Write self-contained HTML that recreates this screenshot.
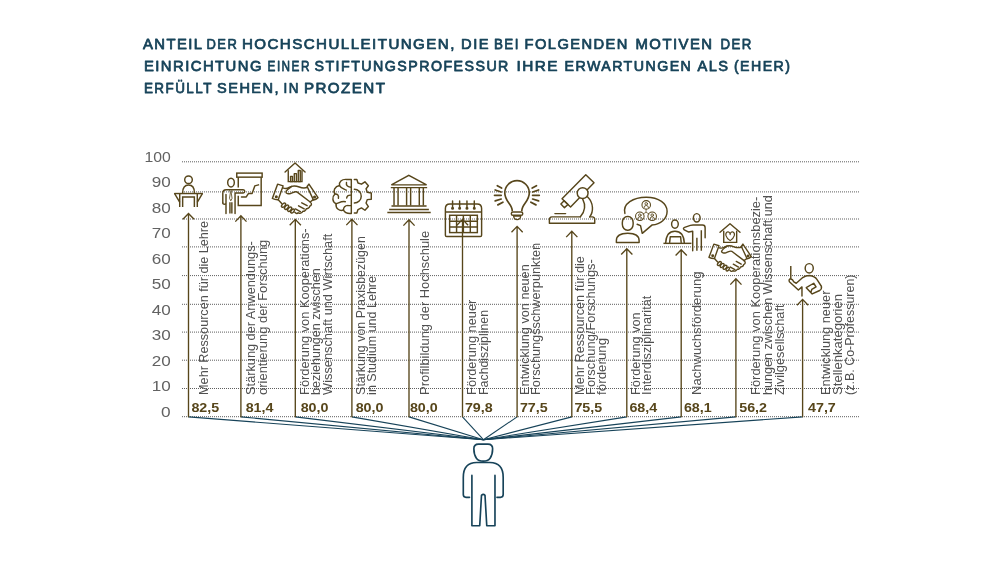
<!DOCTYPE html>
<html lang="de"><head><meta charset="utf-8"><title>Stiftungsprofessur</title>
<style>html,body{margin:0;padding:0;background:#fff}body{width:1000px;height:563px;overflow:hidden;font-family:"Liberation Sans",sans-serif}svg{display:block;will-change:transform}text{font-family:"Liberation Sans",sans-serif}</style></head><body>
<svg width="1000" height="563" viewBox="0 0 1000 563">
<rect width="1000" height="563" fill="#fff"/>
<g font-size="14.9" fill="#174359" stroke="#174359" stroke-width="0.75" stroke-linejoin="round">
<text transform="translate(142.90 48.6) scale(0.9963 1)" letter-spacing="1.455">ANTEIL</text>
<text transform="translate(206.56 48.6) scale(0.8702 1)" letter-spacing="1.666">DER</text>
<text transform="translate(241.89 48.6) scale(1.0154 1)" letter-spacing="1.428">HOCHSCHULLEITUNGEN,</text>
<text transform="translate(461.11 48.6) scale(0.9862 1)" letter-spacing="1.470">DIE</text>
<text transform="translate(493.95 48.6) scale(0.8994 1)" letter-spacing="1.612">BEI</text>
<text transform="translate(524.51 48.6) scale(0.9861 1)" letter-spacing="1.470">FOLGENDEN</text>
<text transform="translate(635.50 48.6) scale(1.0008 1)" letter-spacing="1.449">MOTIVEN</text>
<text transform="translate(720.56 48.6) scale(0.8899 1)" letter-spacing="1.629">DER</text>
<text transform="translate(143.90 70.8) scale(0.9970 1)" letter-spacing="1.454">EINRICHTUNG</text>
<text transform="translate(267.60 70.8) scale(0.7907 1)" letter-spacing="1.834">EINER</text>
<text transform="translate(314.52 70.8) scale(0.9563 1)" letter-spacing="1.516">STIFTUNGSPROFESSUR</text>
<text transform="translate(516.48 70.8) scale(1.0310 1)" letter-spacing="1.406">IHRE</text>
<text transform="translate(564.52 70.8) scale(0.9551 1)" letter-spacing="1.518">ERWARTUNGEN</text>
<text transform="translate(697.51 70.8) scale(0.9832 1)" letter-spacing="1.475">ALS</text>
<text transform="translate(733.92 70.8) scale(0.9514 1)" letter-spacing="1.524">(EHER)</text>
<text transform="translate(143.95 92.8) scale(0.9034 1)" letter-spacing="1.605">ERFÜLLT</text>
<text transform="translate(217.11 92.8) scale(0.9761 1)" letter-spacing="1.486">SEHEN,</text>
<text transform="translate(283.55 92.8) scale(0.9025 1)" letter-spacing="1.607">IN</text>
<text transform="translate(303.89 92.8) scale(1.0177 1)" letter-spacing="1.425">PROZENT</text>
</g>
<g stroke="#5e5e5e" stroke-width="1" stroke-dasharray="1 1" fill="none">
<path d="M182 161.8H859"/>
<path d="M182 191.9H859"/>
<path d="M182 219.0H859"/>
<path d="M182 246.9H859"/>
<path d="M182 275.6H859"/>
<path d="M182 304.3H859"/>
<path d="M182 332.1H859"/>
<path d="M182 360.2H859"/>
<path d="M182 388.5H859"/>
<path d="M182 416.7H859"/>
</g>
<g font-size="15" fill="#626262" text-anchor="end">
<text x="170.7" y="161.9" textLength="26.3" lengthAdjust="spacingAndGlyphs">100</text>
<text x="170.7" y="187.4" textLength="19.0" lengthAdjust="spacingAndGlyphs">90</text>
<text x="170.7" y="212.9" textLength="19.0" lengthAdjust="spacingAndGlyphs">80</text>
<text x="170.7" y="238.3" textLength="19.0" lengthAdjust="spacingAndGlyphs">70</text>
<text x="170.7" y="263.8" textLength="19.0" lengthAdjust="spacingAndGlyphs">60</text>
<text x="170.7" y="289.3" textLength="19.0" lengthAdjust="spacingAndGlyphs">50</text>
<text x="170.7" y="314.8" textLength="19.0" lengthAdjust="spacingAndGlyphs">40</text>
<text x="170.7" y="340.3" textLength="19.0" lengthAdjust="spacingAndGlyphs">30</text>
<text x="170.7" y="365.7" textLength="19.0" lengthAdjust="spacingAndGlyphs">20</text>
<text x="170.7" y="391.2" textLength="19.0" lengthAdjust="spacingAndGlyphs">10</text>
<text x="170.7" y="416.7" textLength="9.6" lengthAdjust="spacingAndGlyphs">0</text>
</g>
<g stroke="#174359" stroke-width="1.1" fill="none">
<path d="M188.5 416.9L483.4 439.7"/>
<path d="M240.9 416.9L483.4 439.7"/>
<path d="M295.3 416.9L483.4 439.7"/>
<path d="M351.9 416.9L483.4 439.7"/>
<path d="M409.0 416.9L483.4 439.7"/>
<path d="M462.5 416.9L483.4 439.7"/>
<path d="M517.1 416.9L483.4 439.7"/>
<path d="M571.8 416.9L483.4 439.7"/>
<path d="M626.8 416.9L483.4 439.7"/>
<path d="M681.2 416.9L483.4 439.7"/>
<path d="M735.9 416.9L483.4 439.7"/>
<path d="M802.6 416.9L483.4 439.7"/>
</g>
<g stroke="#57461b" stroke-width="1.35" fill="none">
<path d="M188.5 417.2V213.5M182.9 219.3L188.5 213.5L194.1 219.3"/>
<path d="M240.9 417.2V215.8M235.3 221.6L240.9 215.8L246.5 221.6"/>
<path d="M295.3 417.2V219.4M289.7 225.2L295.3 219.4L300.9 225.2"/>
<path d="M351.9 417.2V219.3M346.3 225.1L351.9 219.3L357.5 225.1"/>
<path d="M409.0 417.2V219.8M403.4 225.6L409.0 219.8L414.6 225.6"/>
<path d="M462.5 417.2V219.4M456.9 225.2L462.5 219.4L468.1 225.2"/>
<path d="M517.1 417.2V226.4M511.5 232.2L517.1 226.4L522.7 232.2"/>
<path d="M571.8 417.2V231.3M566.2 237.1L571.8 231.3L577.4 237.1"/>
<path d="M626.8 417.2V248.7M621.2 254.5L626.8 248.7L632.4 254.5"/>
<path d="M681.2 417.2V249.7M675.6 255.5L681.2 249.7L686.8 255.5"/>
<path d="M735.9 417.2V278.8M730.3 284.6L735.9 278.8L741.5 284.6"/>
<path d="M802.6 417.2V299.4M797.0 305.2L802.6 299.4L808.2 305.2"/>
</g>
<g font-size="13.6" font-weight="bold" fill="#57461b">
<text x="191.4" y="412.2" textLength="27.8" lengthAdjust="spacingAndGlyphs">82,5</text>
<text x="245.65" y="412.2" textLength="27.8" lengthAdjust="spacingAndGlyphs">81,4</text>
<text x="300.65" y="412.2" textLength="27.8" lengthAdjust="spacingAndGlyphs">80,0</text>
<text x="355.65" y="412.2" textLength="27.8" lengthAdjust="spacingAndGlyphs">80,0</text>
<text x="409.9" y="412.2" textLength="27.8" lengthAdjust="spacingAndGlyphs">80,0</text>
<text x="464.9" y="412.2" textLength="27.8" lengthAdjust="spacingAndGlyphs">79,8</text>
<text x="519.9" y="412.2" textLength="27.8" lengthAdjust="spacingAndGlyphs">77,5</text>
<text x="574.4" y="412.2" textLength="27.8" lengthAdjust="spacingAndGlyphs">75,5</text>
<text x="629.4" y="412.2" textLength="27.8" lengthAdjust="spacingAndGlyphs">68,4</text>
<text x="683.9" y="412.2" textLength="27.8" lengthAdjust="spacingAndGlyphs">68,1</text>
<text x="739.1999999999999" y="412.2" textLength="27.8" lengthAdjust="spacingAndGlyphs">56,2</text>
<text x="808.0" y="412.2" textLength="27.8" lengthAdjust="spacingAndGlyphs">47,7</text>
</g>
<g font-size="12.6" fill="#505050">
<text transform="translate(208.20 394.9) rotate(-90)" textLength="174.0" lengthAdjust="spacingAndGlyphs">Mehr Ressourcen für die Lehre</text>
<text transform="translate(254.80 394.9) rotate(-90)" textLength="153.65" lengthAdjust="spacingAndGlyphs">Stärkung der Anwendungs-</text>
<text transform="translate(266.50 394.9) rotate(-90)" textLength="155.2" lengthAdjust="spacingAndGlyphs">orientierung der Forschung</text>
<text transform="translate(308.60 394.9) rotate(-90)" textLength="166.5" lengthAdjust="spacingAndGlyphs">Förderung von Kooperations-</text>
<text transform="translate(320.30 394.9) rotate(-90)" textLength="126.5" lengthAdjust="spacingAndGlyphs">beziehungen zwischen</text>
<text transform="translate(331.70 394.9) rotate(-90)" textLength="161.2" lengthAdjust="spacingAndGlyphs">Wissenschaft und Wirtschaft</text>
<text transform="translate(364.50 394.9) rotate(-90)" textLength="158.7" lengthAdjust="spacingAndGlyphs">Stärkung von Praxisbezügen</text>
<text transform="translate(376.25 394.9) rotate(-90)" textLength="118.9" lengthAdjust="spacingAndGlyphs">in Studium und Lehre</text>
<text transform="translate(428.70 394.9) rotate(-90)" textLength="164.0" lengthAdjust="spacingAndGlyphs">Profilbildung der Hochschule</text>
<text transform="translate(475.55 394.9) rotate(-90)" textLength="95.2" lengthAdjust="spacingAndGlyphs">Förderung neuer</text>
<text transform="translate(487.60 394.9) rotate(-90)" textLength="84.9" lengthAdjust="spacingAndGlyphs">Fachdisziplinen</text>
<text transform="translate(528.60 394.9) rotate(-90)" textLength="130.6" lengthAdjust="spacingAndGlyphs">Entwicklung von neuen</text>
<text transform="translate(540.00 394.9) rotate(-90)" textLength="152.0" lengthAdjust="spacingAndGlyphs">Forschungsschwerpunkten</text>
<text transform="translate(583.80 394.9) rotate(-90)" textLength="138.8" lengthAdjust="spacingAndGlyphs">Mehr Ressourcen für die</text>
<text transform="translate(595.00 394.9) rotate(-90)" textLength="135.7" lengthAdjust="spacingAndGlyphs">Forschung/Forschungs-</text>
<text transform="translate(606.40 394.9) rotate(-90)" textLength="57.0" lengthAdjust="spacingAndGlyphs">förderung</text>
<text transform="translate(639.60 394.9) rotate(-90)" textLength="82.6" lengthAdjust="spacingAndGlyphs">Förderung von</text>
<text transform="translate(651.30 394.9) rotate(-90)" textLength="99.3" lengthAdjust="spacingAndGlyphs">Interdisziplinarität</text>
<text transform="translate(701.20 394.9) rotate(-90)" textLength="123.4" lengthAdjust="spacingAndGlyphs">Nachwuchsförderung</text>
<text transform="translate(760.05 394.9) rotate(-90)" textLength="198.2" lengthAdjust="spacingAndGlyphs">Förderung von Kooperationsbezie-</text>
<text transform="translate(772.20 394.9) rotate(-90)" textLength="199.6" lengthAdjust="spacingAndGlyphs">hungen zwischen Wissenschaft und</text>
<text transform="translate(784.30 394.9) rotate(-90)" textLength="90.4" lengthAdjust="spacingAndGlyphs">Zivilgesellschaft</text>
<text transform="translate(830.20 394.9) rotate(-90)" textLength="104.3" lengthAdjust="spacingAndGlyphs">Entwicklung neuer</text>
<text transform="translate(842.20 394.9) rotate(-90)" textLength="100.8" lengthAdjust="spacingAndGlyphs">Stellenkategorien</text>
<text transform="translate(854.00 394.9) rotate(-90)" textLength="120.4" lengthAdjust="spacingAndGlyphs">(z.B. Co-Professuren)</text>
</g>
<g transform="translate(168 170) scale(0.09766)" stroke="#57461b" stroke-width="14.847999999999999" fill="none" stroke-linecap="round" stroke-linejoin="round">
<circle cx="210" cy="100" r="39"/>
<path d="M150 232C150 180 172 154 210 154C248 154 270 180 270 232"/>
<path d="M66 241H354" stroke-linecap="butt"/>
<path d="M68 243L118 326M352 243L302 326"/>
<path d="M120 246V380M300 246V380M150 380V276H270V380" stroke-linecap="butt" stroke-linejoin="miter"/>
</g>
<g transform="translate(218 165) scale(0.10661)" stroke="#57461b" stroke-width="13.601" fill="none" stroke-linecap="round" stroke-linejoin="round">
<rect x="176" y="76" width="238" height="38" stroke-linejoin="miter"/>
<path d="M190 114V212M190 288V380H405V114" stroke-linejoin="miter" stroke-linecap="butt"/>
<path d="M220 300H265L285 268H320L345 196L380 186"/>
<ellipse cx="122" cy="165" rx="31" ry="41"/>
<path d="M45 356V264Q45 232 77 232H236Q251 233 251 247Q251 262 236 262H160V456"/>
<path d="M45 356Q46 368 60 368Q74 368 75 356V276M75 356V456"/>
<path d="M112 456V350M130 456V350" stroke-linecap="butt"/>
<path d="M110 240L116 262L108 312L120 336L132 312L124 262L130 240" stroke-width="8"/>
</g>
<g transform="translate(268 155) scale(0.13333)" stroke="#57461b" stroke-width="10.5" fill="none" stroke-linecap="round" stroke-linejoin="round">
<path d="M128 128L203 60L278 128"/>
<path d="M152 118V200H255V118" stroke-linejoin="miter"/>
<rect x="169" y="160" width="14" height="40"/><rect x="197" y="140" width="16" height="60"/><rect x="227" y="116" width="15" height="84"/>
</g>
<g transform="translate(268 180) scale(0.06394)" stroke="#57461b" stroke-width="22.678" fill="none" stroke-linecap="round" stroke-linejoin="round">
<path d="M150 65L236 92L160 308Q110 310 68 288Z"/>
<circle cx="130" cy="262" r="13"/>
<path d="M612 102L640 64L782 276Q750 305 712 314Z"/>
<circle cx="728" cy="266" r="13"/>
<path d="M232 122C265 138 300 136 330 116C372 90 440 90 490 110C540 130 580 126 613 118"/>
<path d="M372 100C330 128 284 168 280 188C282 214 320 220 352 212C392 200 420 172 452 186L660 344"/>
<path d="M706 308L660 344C690 368 684 398 652 410C650 440 615 452 600 448C592 480 560 492 545 488C530 520 490 528 472 512Q452 540 420 505"/>
<path d="M528 356L612 402M478 404L566 452M428 452L506 494"/>
<path d="M160 308L214 366"/>
<ellipse cx="243" cy="393" rx="23" ry="40" transform="rotate(42 243 393)"/>
<ellipse cx="290" cy="425" rx="23" ry="40" transform="rotate(42 290 425)"/>
<ellipse cx="338" cy="456" rx="23" ry="40" transform="rotate(42 338 456)"/>
<ellipse cx="384" cy="486" rx="21" ry="36" transform="rotate(42 384 486)"/>
</g>
<g transform="translate(456.47 73.38) scale(0.9272)"><g transform="translate(268 180) scale(0.06394)" stroke="#57461b" stroke-width="23.46" fill="none" stroke-linecap="round" stroke-linejoin="round">
<path d="M150 65L236 92L160 308Q110 310 68 288Z"/>
<circle cx="130" cy="262" r="13"/>
<path d="M612 102L640 64L782 276Q750 305 712 314Z"/>
<circle cx="728" cy="266" r="13"/>
<path d="M232 122C265 138 300 136 330 116C372 90 440 90 490 110C540 130 580 126 613 118"/>
<path d="M372 100C330 128 284 168 280 188C282 214 320 220 352 212C392 200 420 172 452 186L660 344"/>
<path d="M706 308L660 344C690 368 684 398 652 410C650 440 615 452 600 448C592 480 560 492 545 488C530 520 490 528 472 512Q452 540 420 505"/>
<path d="M528 356L612 402M478 404L566 452M428 452L506 494"/>
<path d="M160 308L214 366"/>
<ellipse cx="243" cy="393" rx="23" ry="40" transform="rotate(42 243 393)"/>
<ellipse cx="290" cy="425" rx="23" ry="40" transform="rotate(42 290 425)"/>
<ellipse cx="338" cy="456" rx="23" ry="40" transform="rotate(42 338 456)"/>
<ellipse cx="384" cy="486" rx="21" ry="36" transform="rotate(42 384 486)"/>
</g></g>
<g transform="translate(325 165) scale(0.11542)" stroke="#57461b" stroke-width="12.5628" fill="none" stroke-linecap="round" stroke-linejoin="round">
<path d="M228 125V420" stroke-linecap="butt"/>
<path d="M228 125H185C145 122 118 148 126 178C86 186 66 222 86 252C58 278 64 322 96 336C90 378 128 402 160 390C172 418 200 422 228 420"/>
<path d="M228 192C200 192 180 178 186 152M126 178C140 204 166 206 184 218M86 252C108 250 122 264 116 288M228 262C204 258 190 268 188 286M96 336C120 330 140 312 176 318M160 390C160 370 176 352 200 350M228 352H200"/>
<path d="M254 125H276L286 156L316 166L346 146L376 180L356 206L366 236L401 242V296L366 300L356 330L376 360L346 392L316 372L286 386L276 416H254"/>
<path d="M254 210A60 60 0 0 1 254 330"/>
</g>
<g transform="translate(325 165) scale(0.11542)" stroke="#57461b" stroke-width="12.5628" fill="none" stroke-linecap="round" stroke-linejoin="round">
<path d="M575 172L726 90L880 172Z" stroke-linejoin="miter"/>
<path d="M570 196H885M576 355H880M556 385H900" stroke-linecap="butt"/>
<path d="M540 412H916" stroke-linecap="butt" stroke-width="13"/>
<path d="M598 200V350M633 200V350M707 200V350M742 200V350M817 200V350M852 200V350" stroke-linecap="butt"/>
</g>
<g transform="translate(435 170) scale(0.13317)" stroke="#57461b" stroke-width="10.88805" fill="none" stroke-linecap="round" stroke-linejoin="round">
<path d="M78 490V290Q78 256 112 256H316Q350 256 350 290V490Q350 500 340 500H88Q78 500 78 490Z"/>
<path d="M78 316H350" stroke-linecap="butt"/>
<path d="M132 232V282M185 232V282M240 232V282M295 232V282"/>
<circle cx="132" cy="287" r="6" fill="#57461b"/><circle cx="185" cy="287" r="6" fill="#57461b"/><circle cx="240" cy="287" r="6" fill="#57461b"/><circle cx="295" cy="287" r="6" fill="#57461b"/>
<rect x="110" y="340" width="208" height="130" stroke-linejoin="miter"/>
<path d="M162 340V470M213 340V470M265 340V470M110 385H318M110 428H318" stroke-linecap="butt"/>
</g>
<g transform="translate(435 170) scale(0.13317)" stroke="#57461b" stroke-width="10.88805" fill="none" stroke-linecap="round" stroke-linejoin="round">
<path d="M580 306C580 255 524 236 524 172A92 92 0 0 1 708 172C708 236 652 255 652 306" stroke-width="12.5"/>
<rect x="573" y="316" width="86" height="24" rx="12"/>
<path d="M590 346H644Q640 372 617 372Q594 372 590 346Z" stroke-width="9"/>
<path d="M468 118L500 135M452 150L497 165M447 190H497M452 232L497 218M472 262L510 242" stroke-width="13"/>
<path d="M762 118L730 135M778 150L733 165M783 190H733M778 232L733 218M758 262L720 242" stroke-width="13"/>
</g>
<g transform="translate(540 165) scale(0.14213)" stroke="#57461b" stroke-width="10.2022" fill="none" stroke-linecap="round" stroke-linejoin="round">
<path d="M322 68L380 125L215 295L155 238Z"/>
<path d="M170 252L197 278L172 300L147 275Z"/>
<circle cx="300" cy="198" r="38" fill="#fff"/>
<path d="M334 224C380 270 376 330 350 365M300 238C326 290 310 335 284 364"/>
<path d="M284 365H84Q66 366 66 386V410H385V382Q385 366 368 365H350"/>
<path d="M105 342H180"/>
</g>
<g transform="translate(605 185) scale(0.14213)" stroke="#57461b" stroke-width="10.2022" fill="none" stroke-linecap="round" stroke-linejoin="round">
<rect x="122" y="222" width="76" height="96" rx="36" ry="42"/>
<path d="M80 405V392C80 352 118 340 160 340C202 340 240 352 240 392V405Z"/>
<path d="M140 200C122 130 200 86 290 86C380 86 437 130 437 185C437 240 392 274 330 282L262 340L250 286L226 276"/>
<circle cx="290" cy="140" r="30" stroke-width="7.5"/><circle cx="290" cy="132" r="9" stroke-width="6"/><path d="M274 160Q274 144 290 144Q306 144 306 160" stroke-width="6"/><circle cx="245" cy="220" r="30" stroke-width="7.5"/><circle cx="245" cy="212" r="9" stroke-width="6"/><path d="M229 240Q229 224 245 224Q261 224 261 240" stroke-width="6"/><circle cx="332" cy="220" r="30" stroke-width="7.5"/><circle cx="332" cy="212" r="9" stroke-width="6"/><path d="M316 240Q316 224 332 224Q348 224 348 240" stroke-width="6"/>
<path d="M289 168V192L268 204M289 192L310 204" stroke-width="5"/>
</g>
<g transform="translate(605 185) scale(0.14213)" stroke="#57461b" stroke-width="10.2022" fill="none" stroke-linecap="round" stroke-linejoin="round">
<ellipse cx="492" cy="275" rx="23.5" ry="29"/>
<path d="M427 408C430 350 455 325 492 325C530 325 555 350 558 408"/>
<path d="M455 404L459 364H532L536 404"/>
<path d="M411 410.5H608" stroke-linecap="butt"/>
<ellipse cx="645.5" cy="231" rx="23.5" ry="29.5"/>
<path d="M617 462V325L589 331L558 316Q545 303 560 298L601 284Q610 281 620 281H686Q704.5 281 704.5 300V372"/>
<path d="M677.7 462V319M646.5 462V372" stroke-linecap="butt"/>
</g>
<g transform="translate(700 215) scale(0.13333)" stroke="#57461b" stroke-width="10.5" fill="none" stroke-linecap="round" stroke-linejoin="round">
<path d="M150 130L225 65L300 130"/>
<path d="M178 122V205H275V122" stroke-linejoin="miter"/>
<path d="M226 192C190 168 186 138 204 128C216 123 226 134 226 147C226 134 236 123 248 128C266 138 262 168 226 192Z" stroke-width="8.5"/>
</g>
<g transform="translate(770 250) scale(0.10658)" stroke="#57461b" stroke-width="13.605349999999998" fill="none" stroke-linecap="round" stroke-linejoin="round">
<ellipse cx="368" cy="172" rx="38" ry="44"/>
<path d="M195 150V268" stroke-linecap="butt"/>
<path d="M300 432V346L266 376L182 298Q172 276 194 270Q214 276 224 300L246 312L302 262Q336 240 372 240Q420 246 440 276L482 340Q488 366 466 380L396 412L340 354L410 312L432 346L392 370L384 396"/>
</g>
<g transform="translate(450 425) scale(0.19554)" stroke="#174359" stroke-width="8.438099999999999" fill="none" stroke-linecap="round" stroke-linejoin="round">
<path d="M122 122Q122 98 146 98H194Q218 98 218 122Q218 152 205 170Q194 185 170 185Q146 185 135 170Q122 152 122 122Z"/>
<path d="M100 370H82Q68 370 68 356V268C68 215 90 192 136 192H204C250 192 272 215 272 268V356Q272 370 258 370H240"/>
<path d="M112 258V515H152L161 360Q170 350 179 360L188 515H230V258"/>
</g>
</svg></body></html>
